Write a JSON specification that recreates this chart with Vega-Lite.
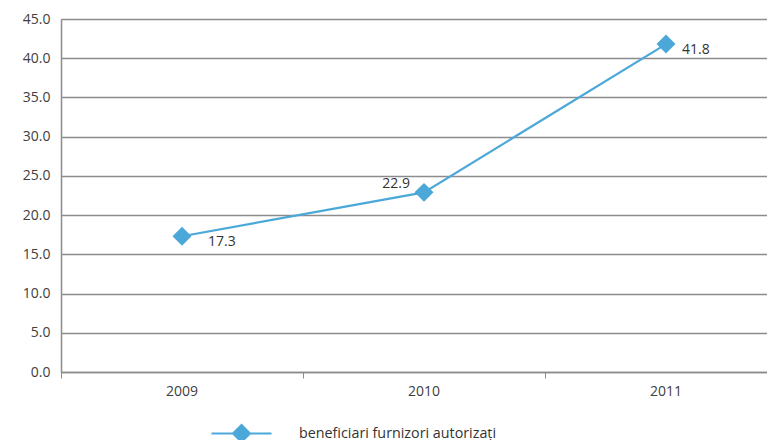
{
  "$schema": "https://vega.github.io/schema/vega-lite/v6.json",
  "autosize": {"type": "none"},
  "padding": {"left": 61, "top": 19, "right": 0, "bottom": 68},
  "width": 706,
  "height": 353,
  "background": "white",
  "config": {
    "font": "Open Sans",
    "view": {"stroke": null},
    "axis": {"labelFont": "Open Sans", "labelFontSize": 14, "labelColor": "#404040", "domainColor": "#8c8c8c", "tickColor": "#8c8c8c", "gridColor": "#8c8c8c", "title": null}
  },
  "data": {"values": [
    {"year": "2009", "value": 17.3, "series": "beneficiari furnizori autorizați"},
    {"year": "2010", "value": 22.9, "series": "beneficiari furnizori autorizați"},
    {"year": "2011", "value": 41.8, "series": "beneficiari furnizori autorizați"}
  ]},
  "encoding": {
    "x": {"field": "year", "type": "nominal", "scale": {"type": "band", "range": [0, 726], "paddingInner": 0, "paddingOuter": 0},
      "axis": {"labelAngle": 0, "grid": false, "bandPosition": 0, "tickSize": 6, "labelPadding": 6, "domainWidth": 1.5, "labelBaseline": "top"}},
    "y": {"field": "value", "type": "quantitative", "scale": {"domain": [0, 45], "nice": false},
      "axis": {"values": [0, 5, 10, 15, 20, 25, 30, 35, 40, 45], "format": ".1f", "ticks": false, "labelPadding": 11, "domainWidth": 1.5, "gridWidth": 1.5}}
  },
  "layer": [
    {"mark": {"type": "line", "color": "#4BA8D8", "strokeWidth": 2.2},
     "encoding": {"color": {"field": "series", "type": "nominal", "scale": {"range": ["#4BA8D8"]},
       "legend": {"title": null, "orient": "none", "legendX": 149, "legendY": 383, "padding": 0,
         "symbolType": "M-1,0H1M0,-0.28L0.28,0L0,0.28L-0.28,0Z", "symbolSize": 3600, "symbolStrokeWidth": 2.2,
         "symbolFillColor": "#4BA8D8", "symbolStrokeColor": "#4BA8D8", "labelOffset": 26,
         "labelFont": "Open Sans", "labelFontSize": 14.3, "labelColor": "#333333", "labelLimit": 400,
         "encode": {"symbols": {"update": {"fill": {"value": "#4BA8D8"}, "stroke": {"value": "#4BA8D8"}, "strokeWidth": {"value": 2.2}}}}}}}},
    {"mark": {"type": "point", "shape": "diamond", "filled": true, "size": 360, "color": "#4BA8D8", "opacity": 1}},
    {"transform": [{"filter": "datum.year == '2009'"}],
     "mark": {"type": "text", "align": "left", "baseline": "middle", "dx": 26, "dy": 6, "fontSize": 14, "color": "#333333"},
     "encoding": {"text": {"field": "value", "type": "quantitative", "format": ".1f"}}},
    {"transform": [{"filter": "datum.year == '2010'"}],
     "mark": {"type": "text", "align": "right", "baseline": "middle", "dx": -14, "dy": -8, "fontSize": 14, "color": "#333333"},
     "encoding": {"text": {"field": "value", "type": "quantitative", "format": ".1f"}}},
    {"transform": [{"filter": "datum.year == '2011'"}],
     "mark": {"type": "text", "align": "left", "baseline": "middle", "dx": 16, "dy": 6, "fontSize": 14, "color": "#333333"},
     "encoding": {"text": {"field": "value", "type": "quantitative", "format": ".1f"}}}
  ]
}
